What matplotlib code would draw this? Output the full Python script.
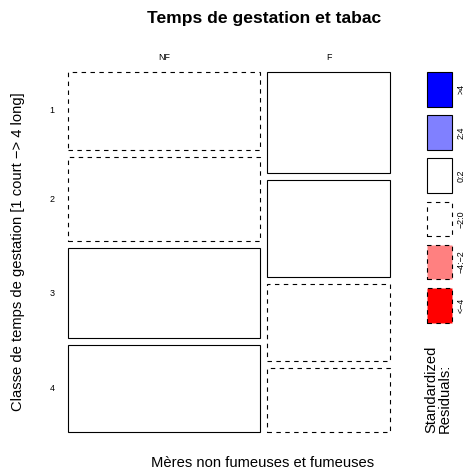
import numpy as np
import matplotlib
matplotlib.use("Agg")
import matplotlib.pyplot as plt
from matplotlib.patches import Rectangle

plt.rcParams['font.family'] = ['Liberation Sans', 'DejaVu Sans']

# Data: counts by smoking status (columns) and gestation class (rows)
smoking = ["NF", "F"]
gestation = ["1", "2", "3", "4"]
counts_NF = [70, 76, 81, 78]
counts_F = [58, 56, 44, 37]
title = "Temps de gestation et tabac"
xlabel = "Mères non fumeuses et fumeuses"
ylabel = "Classe de temps de gestation [1 court −> 4 long]"
legend_labels = [">4", "2:4", "0:2", "−2:0", "−4:−2", "<−4"]
legend_colors = ["#0000FF", "#8080FF", "#FFFFFF", "#FFFFFF", "#FF8080", "#FF0000"]
legend_dashed = [False, False, False, True, True, True]

W, H = 466, 472
fig = plt.figure(figsize=(W / 100, H / 100), dpi=100)
# mosaic region in pixels
L, R, T, B = 68, 390, 72, 432
ax = fig.add_axes([L / W, (H - B) / H, (R - L) / W, (B - T) / H])
ax.set_xlim(0, 1)
ax.set_ylim(0, 1)
ax.axis('off')

def fx(px):
    return (px - L) / (R - L)

def fy(py):
    return (B - py) / (B - T)

tab = np.array([counts_NF, counts_F], dtype=float)  # shape (cols, rows)
n = tab.sum()
col_tot = tab.sum(axis=1)
row_tot = tab.sum(axis=0)
expected = np.outer(col_tot, row_tot) / n
resid = (tab - expected) / np.sqrt(expected)

def style(r):
    if r > 4:
        return legend_colors[0], False
    if r > 2:
        return legend_colors[1], False
    if r >= 0:
        return legend_colors[2], False
    if r > -2:
        return legend_colors[3], True
    if r > -4:
        return legend_colors[4], True
    return legend_colors[5], True

gap_x = 7 / (R - L)
gap_y = 7 / (B - T)
ncols = len(smoking)
nrows = len(gestation)
avail_x = 1 - gap_x * (ncols - 1)
avail_y = 1 - gap_y * (nrows - 1)
dash = (0, (4, 4))

x0 = 0.0
for j in range(ncols):
    w = avail_x * col_tot[j] / n
    ytop = 1.0
    for i in range(nrows):
        h = avail_y * tab[j, i] / col_tot[j]
        fc, dashed = style(resid[j, i])
        ax.add_patch(Rectangle((x0, ytop - h), w, h, facecolor=fc, edgecolor='black',
                               linewidth=0.8, linestyle=dash if dashed else '-',
                               clip_on=False))
        if j == 0:
            ax.text(fx(52), ytop - h / 2, gestation[i], fontsize=6.4, ha='center', va='center')
        ytop -= h + gap_y
    ax.text(x0 + w / 2, fy(57.5), smoking[j], fontsize=6.4, ha='center', va='center')
    x0 += w + gap_x

# legend
step = 43.2 / (B - T)
bh = 34.6 / (B - T)
lx0, lx1 = fx(427), fx(452)
for k, (lab, c, d) in enumerate(zip(legend_labels, legend_colors, legend_dashed)):
    top = 1 - k * step
    ax.add_patch(Rectangle((lx0, top - bh), lx1 - lx0, bh, facecolor=c, edgecolor='black',
                           linewidth=0.8, linestyle=dash if d else '-', clip_on=False))
    ax.text(fx(461), top - bh / 2, lab, fontsize=6.4, rotation=90, ha='center', va='center')

ax.text(fx(438), fy(433), "Standardized\nResiduals:", fontsize=10.6, rotation=90,
        rotation_mode='anchor', ha='left', va='center', multialignment='left', linespacing=1.0)

ax.text(fx(264), fy(18), title, fontsize=12.6, fontweight='bold', ha='center', va='center')
ax.text(fx(263), fy(463), xlabel, fontsize=10.6, ha='center', va='center')
ax.text(fx(18), 0.5, ylabel, fontsize=10.6, rotation=90, ha='center', va='center')

fig.savefig("out.png", dpi=100)
